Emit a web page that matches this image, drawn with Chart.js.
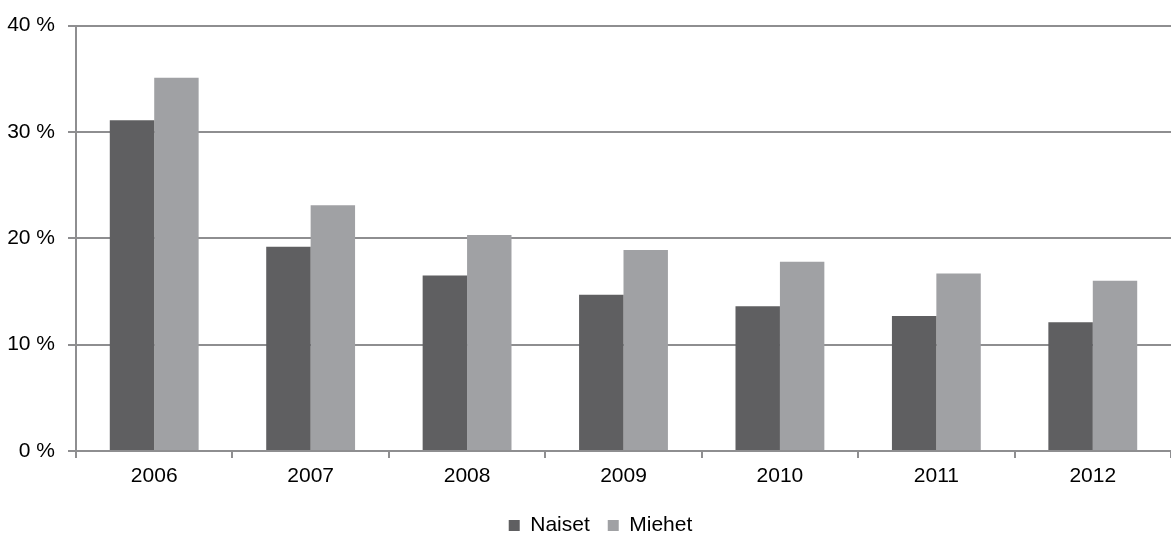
<!DOCTYPE html>
<html>
<head>
<meta charset="utf-8">
<script src="https://cdn.jsdelivr.net/npm/chart.js@4"></script>
<style>
  html, body { margin: 0; padding: 0; background: #ffffff; }
  #wrap { width: 1171px; height: 534px; }
</style>
</head>
<body>
<div id="wrap"><canvas id="chart" width="1171" height="534"></canvas></div>
<script>
// Data
const years = ['2006', '2007', '2008', '2009', '2010', '2011', '2012'];
const naiset = [31.1, 19.2, 16.5, 14.7, 13.6, 12.7, 12.1];
const miehet = [35.1, 23.1, 20.3, 18.9, 17.8, 16.7, 16.0];
const yTicks = [0, 10, 20, 30, 40];

const axisGray = '#8e8e90';
const fontFamily = 'Liberation Sans, Arial, sans-serif';

// move the legend down and a bit to the right, like in the original
const legendShift = {
  id: 'legendShift',
  afterLayout(chart) {
    const lg = chart.legend;
    lg.left += 15;
    lg.right += 15;
    lg.top += 12;
    lg.bottom += 12;
  }
};

const ctx = document.getElementById('chart').getContext('2d');
new Chart(ctx, {
  type: 'bar',
  data: {
    labels: years,
    datasets: [
      {
        label: 'Naiset',
        data: naiset,
        backgroundColor: '#5f5f61',
        borderWidth: 0
      },
      {
        label: 'Miehet',
        data: miehet,
        backgroundColor: '#a0a1a4',
        borderWidth: 0
      }
    ]
  },
  options: {
    responsive: false,
    animation: false,
    categoryPercentage: 0.568,
    barPercentage: 1,
    layout: {
      padding: { top: 11, right: 0, left: 0, bottom: 0 }
    },
    plugins: {
      tooltip: { enabled: false },
      legend: {
        display: true,
        position: 'bottom',
        labels: {
          color: '#000000',
          boxWidth: 11,
          boxHeight: 11,
          padding: 18,
          font: { family: fontFamily, size: 21 }
        }
      }
    },
    scales: {
      x: {
        afterFit: (axis) => {
          axis.height = 34;
        },
        ticks: {
          color: '#000000',
          padding: 6,
          font: { family: fontFamily, size: 21 }
        },
        grid: {
          display: true,
          offset: true,
          drawOnChartArea: false,
          drawTicks: true,
          tickLength: 7,
          color: axisGray,
          lineWidth: 2
        },
        border: { display: true, color: axisGray, width: 2 }
      },
      y: {
        min: yTicks[0],
        max: yTicks[yTicks.length - 1],
        afterBuildTicks: (axis) => {
          axis.ticks = yTicks.map(v => ({ value: v }));
        },
        afterFit: (axis) => {
          axis.width = 76;
        },
        ticks: {
          color: '#000000',
          padding: 13,
          font: { family: fontFamily, size: 21 },
          callback: (v) => v + ' %'
        },
        grid: {
          color: axisGray,
          lineWidth: 2,
          tickLength: 8
        },
        border: { display: true, color: axisGray, width: 2 }
      }
    }
  },
  plugins: [legendShift]
});
</script>
</body>
</html>
